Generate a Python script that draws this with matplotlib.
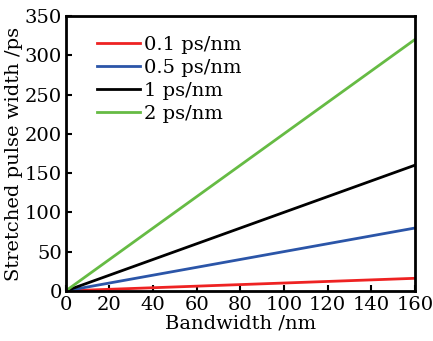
import numpy as np
import matplotlib.pyplot as plt

plt.rcParams['font.family'] = ['DejaVu Serif']

# bandwidth /nm and stretched pulse width /ps
bandwidth = [0, 160]
w01 = [0, 16]
w05 = [0, 80]
w1 = [0, 160]
w2 = [0, 320]
labels = ['0.1 ps/nm', '0.5 ps/nm', '1 ps/nm', '2 ps/nm']
colors = ['#ee2222', '#2b55a8', '#000000', '#66bb44']

fig = plt.figure(figsize=(4.33, 3.41), dpi=100)
ax = fig.add_axes([0.152, 0.147, 0.806, 0.806])
for w, lab, c in zip([w01, w05, w1, w2], labels, colors):
    ax.plot(bandwidth, w, color=c, linewidth=2, label=lab)

ax.set_xlim(0, 160)
ax.set_ylim(0, 350)
ax.set_xticks(np.arange(0, 161, 20))
ax.set_yticks(np.arange(0, 351, 50))
ax.tick_params(direction='in', labelsize=14, length=4, width=1.5)
ax.tick_params(axis='x', pad=4)
ax.tick_params(axis='y', pad=3)
for s in ax.spines.values():
    s.set_linewidth(2)
ax.set_xlabel('Bandwidth /nm', fontsize=14, labelpad=0)
ax.set_ylabel('Stretched pulse width /ps', fontsize=14, labelpad=1)
ax.legend(loc='upper left', frameon=False, fontsize=14, handlelength=2.2,
          handletextpad=0.2, labelspacing=0.25, bbox_to_anchor=(0.04, 0.99))

plt.savefig('out.png', dpi=100)
